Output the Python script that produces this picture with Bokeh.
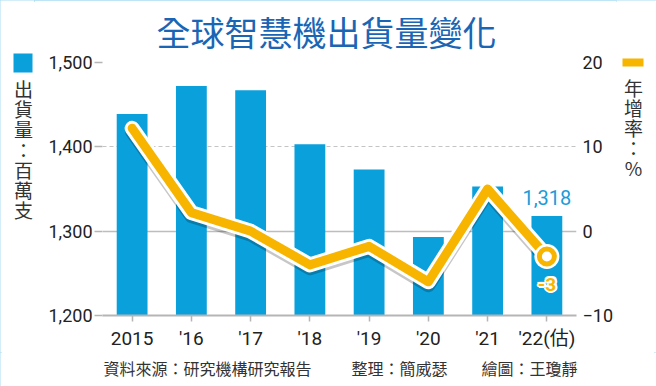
from bokeh.plotting import figure
from bokeh.layouts import column, row
from bokeh.models import (Range1d, LinearAxis, FixedTicker, NumeralTickFormatter,
                          Grid, ColumnDataSource, Title)
from bokeh.core.properties import value
from bokeh.embed import file_html
from bokeh.resources import INLINE

# ---- data ----
years = ["2015", "'16", "'17", "'18", "'19", "'20", "'21", "'22(估)"]
shipments = [1439, 1472, 1467, 1403, 1373, 1293, 1353, 1318]   # 百萬支
growth = [12.2, 2.2, 0.0, -4.0, -1.8, -6.0, 5.0, -3]            # 年增率 %
left_ticks = [1200, 1300, 1400, 1500]
right_ticks = [-10, 0, 10, 20]

title_text = "全球智慧機出貨量變化"
left_legend = "出貨量：百萬支"
right_legend = "年增率：%"
footer = ["資料來源：研究機構研究報告", "整理：簡威瑟", "繪圖：王瓊靜"]

BLUE = "#0aa0dc"
YELLOW = "#f7b500"
TITLE_BLUE = "#1a66b5"
TXT = "#222222"
CJK = "'Noto Sans CJK TC'"
NUM = "Roboto, 'Noto Sans CJK TC'"

TOTAL_W, TOTAL_H = 656, 386
FOOT_H = 34
MID_H = TOTAL_H - FOOT_H               # 352
LEFT_W, RIGHT_W = 34, 40
MAIN_W = TOTAL_W - LEFT_W - RIGHT_W    # 582


def text_fig(w, h):
    f = figure(width=w, height=h, x_range=Range1d(0, w), y_range=Range1d(h, 0),
               x_axis_type=None, y_axis_type=None, output_backend="svg",
               toolbar_location=None, min_border=0, frame_align=False)
    f.title.visible = False
    f.outline_line_color = None
    f.background_fill_color = "white"
    f.border_fill_color = "white"
    for g in f.grid:
        g.visible = False
    return f


# ---- left legend strip ----
ll = text_fig(LEFT_W, MID_H)
ll.quad(left=[13], right=[32], top=[53], bottom=[72], fill_color=BLUE, line_color=None)
ll.text(x=[23] * len(left_legend), y=[88 + 20.2 * i for i in range(len(left_legend))],
        text=list(left_legend), text_align="center", text_baseline="middle",
        text_font=value(CJK), text_font_size="19px", text_color="#333333")

# ---- right legend strip ----
rl = text_fig(RIGHT_W, MID_H)
rl.quad(left=[6], right=[27], top=[58], bottom=[66], fill_color=YELLOW, line_color=None)
rl.text(x=[17] * len(right_legend), y=[87 + 20 * i for i in range(len(right_legend))],
        text=list(right_legend), text_align="center", text_baseline="middle",
        text_font=value(CJK), text_font_size="19px", text_color="#333333")

# ---- footer strip ----
ft = text_fig(TOTAL_W, FOOT_H)
ft.text(x=[103, 351, 481], y=[15, 15, 15], text=footer, text_align="left",
        text_baseline="middle", text_font=value(CJK), text_font_size="16px",
        text_color="#333333")

# ---- main chart ----
p = figure(width=MAIN_W, height=MID_H, x_range=years, y_range=Range1d(1200, 1500),
           output_backend="svg", toolbar_location=None, frame_align=False,
           min_border_left=68, min_border_right=39,
           min_border_top=62, min_border_bottom=36)
p.title = Title(text=title_text, align="left", offset=54, standoff=10,
                vertical_align="top",
                text_font=CJK, text_font_size="34px", text_font_style="normal",
                text_color=TITLE_BLUE)
p.outline_line_color = None
p.background_fill_color = "white"
p.border_fill_color = "white"
p.extra_y_ranges = {"pct": Range1d(-10, 20), "shadow": Range1d(-10 + 0.4, 20 + 0.4)}

p.xgrid.visible = False
p.ygrid.ticker = FixedTicker(ticks=[1400, 1500])
p.ygrid.grid_line_color = "#c4c4c4"
p.ygrid.grid_line_dash = "4 3"
p.ygrid.grid_line_width = 1
p.add_layout(Grid(dimension=1, ticker=FixedTicker(ticks=[1300]),
                  grid_line_color="#bdbdbd", grid_line_width=1.5))

ya = p.yaxis[0]
ya.ticker = FixedTicker(ticks=left_ticks)
ya.formatter = NumeralTickFormatter(format="0,0")
ya.axis_line_color = None
ya.major_tick_line_color = "#b5b5b5"
ya.major_tick_line_width = 1.5
ya.major_tick_out = 8
ya.major_tick_in = 0
ya.minor_tick_line_color = None
ya.major_label_standoff = 2
ya.major_label_text_font = NUM
ya.major_label_text_font_size = "18px"
ya.major_label_text_color = TXT

ra = LinearAxis(y_range_name="pct", ticker=FixedTicker(ticks=right_ticks))
ra.axis_line_color = None
ra.major_tick_line_color = None
ra.major_tick_out = 0
ra.major_tick_in = 0
ra.minor_tick_line_color = None
ra.major_label_standoff = 6
ra.major_label_text_font = NUM
ra.major_label_text_font_size = "18px"
ra.major_label_text_color = TXT
p.add_layout(ra, "right")

xa = p.xaxis[0]
xa.axis_line_color = "#b5b5b5"
xa.axis_line_width = 2
xa.major_tick_line_color = "#b5b5b5"
xa.major_tick_line_width = 1.5
xa.major_tick_out = 6
xa.major_tick_in = 0
xa.major_label_standoff = 5
xa.major_label_text_font = NUM
xa.major_label_text_font_size = "19px"
xa.major_label_text_color = TXT

src = ColumnDataSource(dict(x=years, ship=shipments, g=growth))
p.vbar(x="x", top="ship", bottom=1200, width=0.52, source=src,
       fill_color=BLUE, line_color=None)

p.line("x", "g", source=src, y_range_name="shadow", line_color="black",
       line_alpha=0.22, line_width=14, line_join="round", line_cap="round")
p.line("x", "g", source=src, y_range_name="pct", line_color="white",
       line_width=15, line_join="round", line_cap="round")
p.line("x", "g", source=src, y_range_name="pct", line_color=YELLOW,
       line_width=9, line_join="round", line_cap="round")

last = dict(x=[years[-1]], g=[growth[-1]], ship=[shipments[-1]],
            lab_s=[f"{shipments[-1]:,}"], lab_g=[f"{growth[-1]:.0f}"])
lsrc = ColumnDataSource(last)
p.scatter("x", "g", source=lsrc, y_range_name="pct", size=25,
          fill_color="white", line_color=None)
p.scatter("x", "g", source=lsrc, y_range_name="pct", size=15,
          fill_color="white", line_color=YELLOW, line_width=5)

p.text("x", "ship", text="lab_s", source=lsrc, y_offset=-18,
       text_align="center", text_baseline="middle",
       text_font=value(NUM), text_font_size="20px", text_color="#1c9bd8")
for ox, oy in [(-2, 0), (2, 0), (0, -2), (0, 2), (-1.5, -1.5), (1.5, 1.5), (-1.5, 1.5), (1.5, -1.5)]:
    p.text("x", "g", text="lab_g", source=lsrc, y_range_name="pct",
           x_offset=ox, y_offset=28 + oy, text_align="center", text_baseline="middle",
           text_font=value(NUM), text_font_size="19px", text_font_style="bold",
           text_color="white")
p.text("x", "g", text="lab_g", source=lsrc, y_range_name="pct",
       y_offset=28, text_align="center", text_baseline="middle",
       text_font=value(NUM), text_font_size="19px", text_font_style="bold",
       text_color=YELLOW)

layout = column(row(ll, p, rl), ft)
layout.styles = {"outline": "2px solid #a8dcf2", "outline-offset": "-2px"}

open("out.html", "w").write(file_html(layout, INLINE))
